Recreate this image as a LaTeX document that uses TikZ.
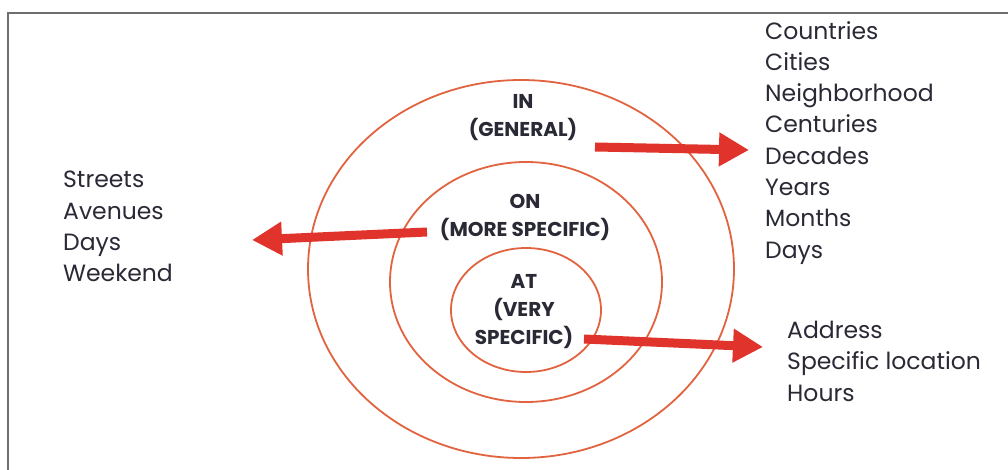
\documentclass[tikz,border=0pt]{standalone}
\usepackage{fontspec}
\setmainfont{Poppins}
\usetikzlibrary{arrows.meta}
\definecolor{ringc}{HTML}{E2633F}
\definecolor{arrowc}{HTML}{E0332B}
\definecolor{textc}{HTML}{2A2A36}
\definecolor{framec}{HTML}{6E6E6E}
\tikzset{
  ring/.style={draw=ringc, line width=1.8pt},
  pointer/.style={draw=arrowc, line width=9pt, -{Triangle[length=30pt,width=32pt]}},
  level/.style={font=\fontsize{20}{28}\selectfont\bfseries, text=textc, align=center, inner sep=0pt},
  items/.style={font=\fontsize{23.5}{31.3}\selectfont, text=textc, align=left, anchor=north west, inner sep=0pt},
}
\begin{document}
\begin{tikzpicture}[x=1pt,y=-1pt]
\useasboundingbox (0,0) rectangle (1008,470);
\fill[white] (0,0) rectangle (1008,470);
% frame
\draw[framec, line width=2.5pt] (8,472) -- (8,13) -- (1010,13);
% concentric rings
\draw[ring] (521,269) ellipse [x radius=213, y radius=189];
\draw[ring] (526,282) ellipse [x radius=136, y radius=120];
\draw[ring] (526,310) ellipse [x radius=75, y radius=62];
% level labels
\node[level] (in) at (523,118) {IN\\(GENERAL)};
\node[level] (on) at (525,217) {ON\\(MORE SPECIFIC)};
\node[level] (at) at (524,312) {AT\\(VERY\\SPECIFIC)};
% lists
\node[items] (inlist) at (765,21) {Countries\\Cities\\Neighborhood\\Centuries\\Decades\\Years\\Months\\Days};
\node[items] (onlist) at (63,171) {Streets\\Avenues\\Days\\Weekend};
\node[items] (atlist) at (787,321) {Address\\Specific location\\Hours};
% pointers
\coordinate (inS) at (595,147);
\coordinate (inT) at (749,150);
\coordinate (onS) at (427,232);
\coordinate (onT) at (252,240);
\coordinate (atS) at (584,339);
\coordinate (atT) at (763,347);
\draw[pointer] (inS) -- (inT);
\draw[pointer] (onS) -- (onT);
\draw[pointer] (atS) -- (atT);
\end{tikzpicture}
\end{document}
